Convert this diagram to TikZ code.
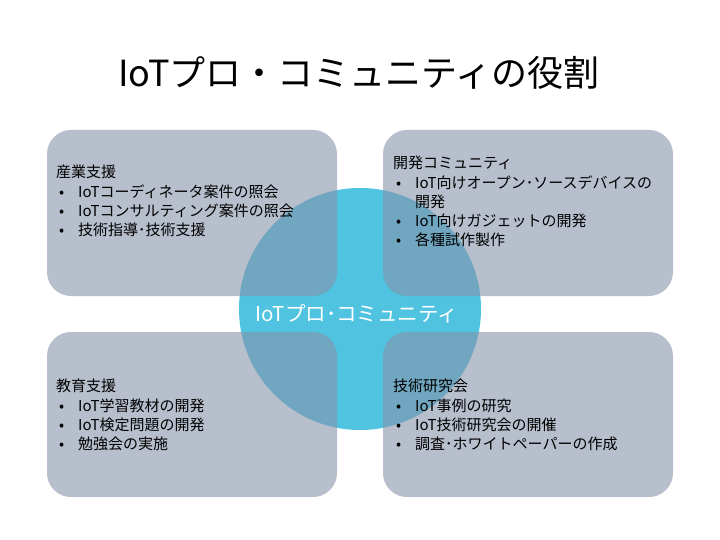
\documentclass[tikz,border=0pt]{standalone}
\usepackage{fontspec}
\setmainfont{Noto Sans CJK JP}
\definecolor{circcol}{RGB}{79,195,224}
\definecolor{boxcol}{RGB}{135,148,170}
\begin{document}
\begin{tikzpicture}[x=1pt,y=-1pt,
  quad/.style={fill=boxcol,fill opacity=0.6,draw=none,rounded corners=24pt},
  boxtext/.style={anchor=north west,inner sep=0pt,align=left,font=\fontsize{15}{19.3}\selectfont,text=black},
]
\newcommand{\bul}[1]{\makebox[22pt][l]{\hspace{3pt}•}#1}
\useasboundingbox[fill=white] (0,0) rectangle (720,540);
\node[anchor=center,inner sep=0pt,font=\fontsize{36}{40}\selectfont] (title) at (359,73) {IoTプロ・コミュニティの役割};
\node[circle,fill=circcol,minimum size=242pt,inner sep=0pt] (hub) at (360,309) {};
\fill[quad] (47,130) rectangle (337,296);
\fill[quad] (383,130) rectangle (673,296);
\fill[quad] (47,332) rectangle (337,497);
\fill[quad] (383,332) rectangle (673,497);
\node[text=white,inner sep=0pt,font=\fontsize{20.5}{22}\selectfont] (hubtext) at (357,314) {IoTプロ･コミュニティ};
\node[boxtext] (t1) at (56,165) {産業支援\\\bul{IoTコーディネータ案件の照会}\\\bul{IoTコンサルティング案件の照会}\\\bul{技術指導･技術支援}};
\node[boxtext] (t2) at (393,156) {開発コミュニティ\\\bul{IoT向けオープン･ソースデバイスの}\\\hspace{22pt}開発\\\bul{IoT向けガジェットの開発}\\\bul{各種試作製作}};
\node[boxtext] (t3) at (56,379) {教育支援\\\bul{IoT学習教材の開発}\\\bul{IoT検定問題の開発}\\\bul{勉強会の実施}};
\node[boxtext] (t4) at (393,379) {技術研究会\\\bul{IoT事例の研究}\\\bul{IoT技術研究会の開催}\\\bul{調査･ホワイトペーパーの作成}};
\end{tikzpicture}
\end{document}
